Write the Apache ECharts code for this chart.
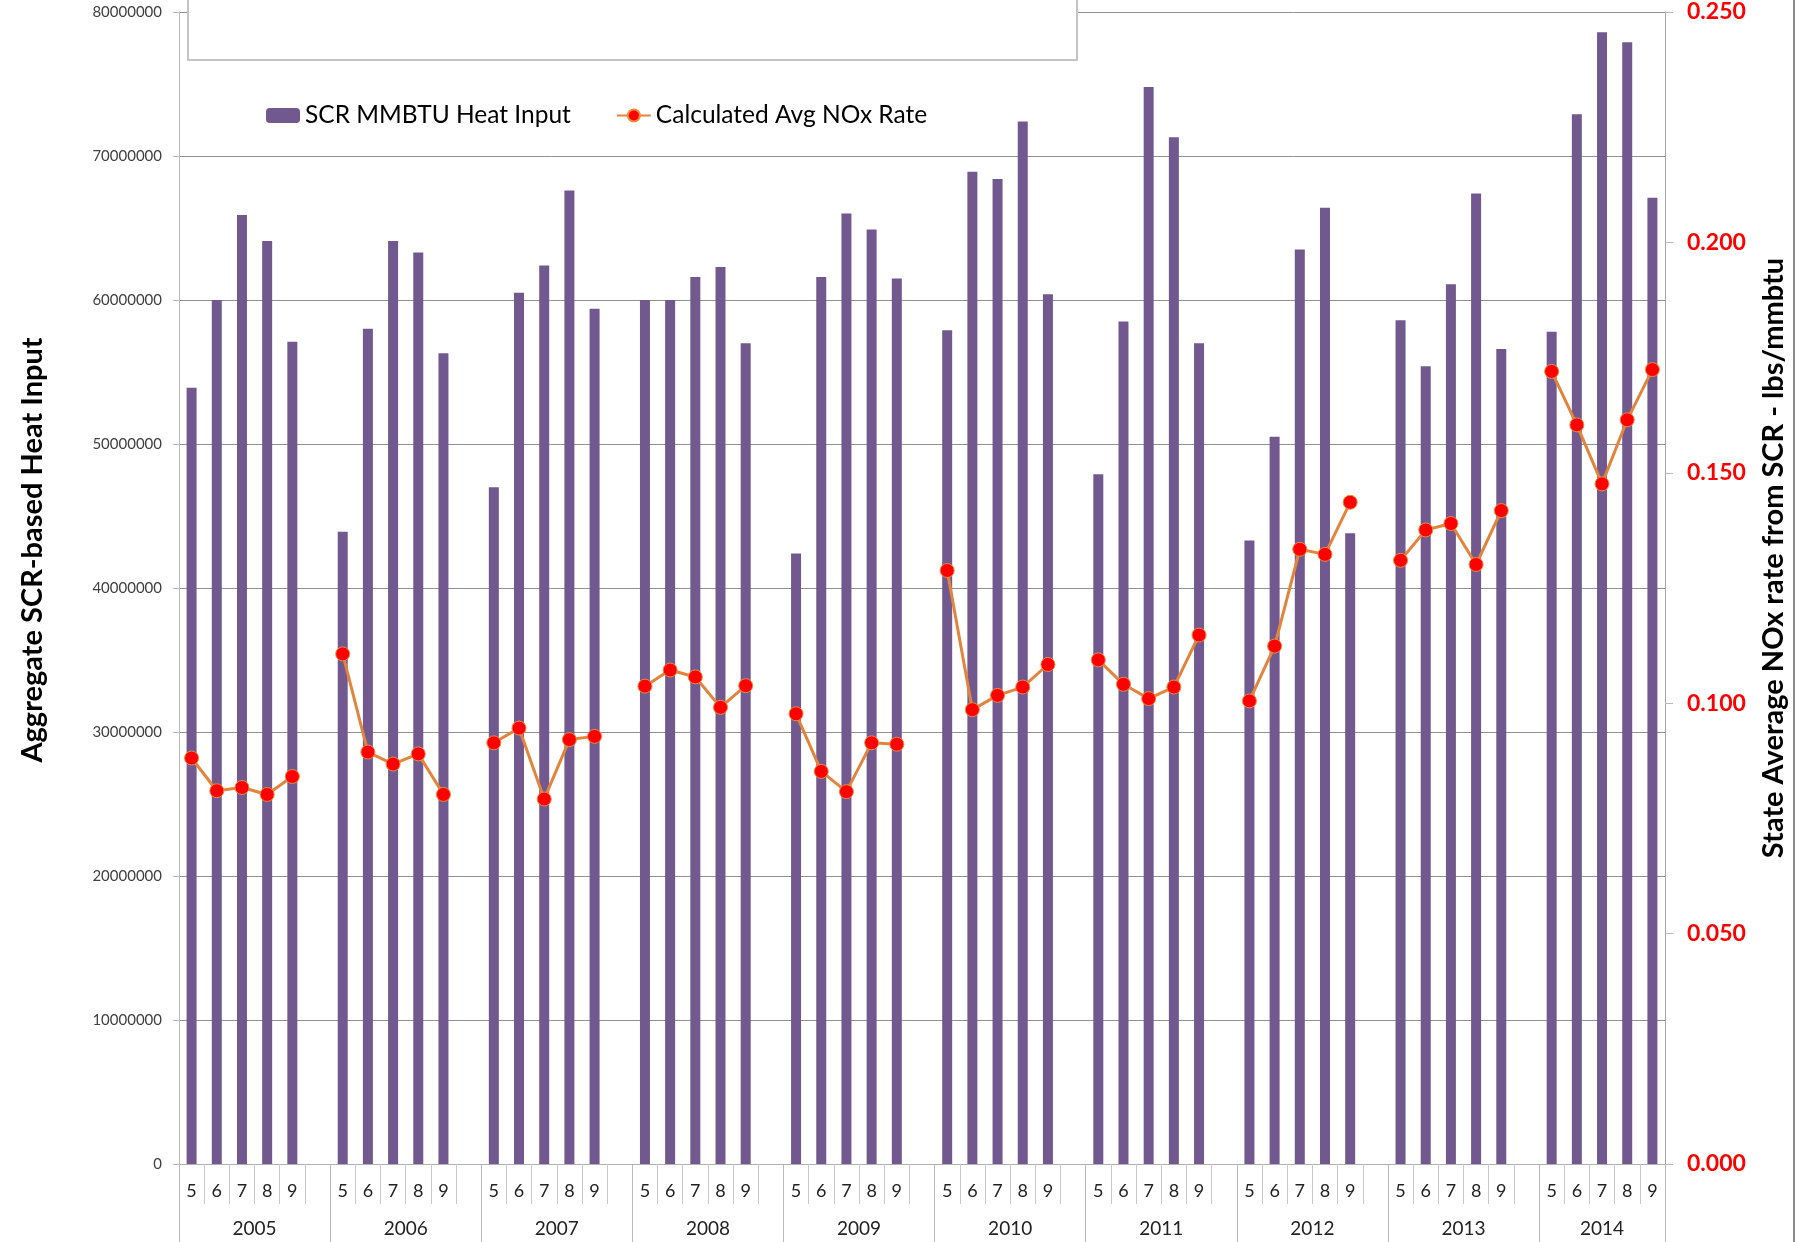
<!DOCTYPE html>
<html>
<head>
<meta charset="utf-8">
<script src="https://cdn.jsdelivr.net/npm/echarts@6/dist/echarts.min.js"></script>
<style>
  html, body { margin: 0; padding: 0; background: #fff; }
  #chart { width: 1798px; height: 1242px; }
</style>
</head>
<body>
<div id="chart"></div>
<script>
// ---- Data ----
const years = ['2005','2006','2007','2008','2009','2010','2011','2012','2013','2014'];
const months = ['5','6','7','8','9'];

// SCR MMBTU Heat Input, 5 months per year (May..Sep)
const heatInput = [
  53900000, 60000000, 65900000, 64100000, 57100000,   // 2005
  43900000, 58000000, 64100000, 63300000, 56300000,   // 2006
  47000000, 60500000, 62400000, 67600000, 59400000,   // 2007
  60000000, 60000000, 61600000, 62300000, 57000000,   // 2008
  42400000, 61600000, 66000000, 64900000, 61500000,   // 2009
  57900000, 68900000, 68400000, 72400000, 60400000,   // 2010
  47900000, 58500000, 74800000, 71300000, 57000000,   // 2011
  43300000, 50500000, 63500000, 66400000, 43800000,   // 2012
  58600000, 55400000, 61100000, 67400000, 56600000,   // 2013
  57800000, 72900000, 78600000, 77900000, 67100000    // 2014
];

// Calculated Avg NOx Rate (lbs/mmbtu)
const noxRate = [
  0.0881, 0.0810, 0.0817, 0.0802, 0.0841,   // 2005
  0.1107, 0.0894, 0.0868, 0.0890, 0.0802,   // 2006
  0.0914, 0.0946, 0.0792, 0.0921, 0.0928,   // 2007
  0.1037, 0.1072, 0.1057, 0.0991, 0.1038,   // 2008
  0.0977, 0.0852, 0.0808, 0.0914, 0.0911,   // 2009
  0.1288, 0.0986, 0.1017, 0.1035, 0.1084,   // 2010
  0.1094, 0.1041, 0.1010, 0.1035, 0.1148,   // 2011
  0.1005, 0.1124, 0.1334, 0.1323, 0.1436,   // 2012
  0.1310, 0.1376, 0.1390, 0.1301, 0.1418,   // 2013
  0.1720, 0.1604, 0.1476, 0.1615, 0.1724    // 2014
];

const leftTicks = { min: 0, max: 80000000, interval: 10000000 };
const rightTicks = { min: 0, max: 0.25, interval: 0.05 };

// ---- Build slot layout: 5 months + one blank slot per year (none after last) ----
const slotLabels = [], barData = [], lineData = [];
years.forEach((y, yi) => {
  months.forEach((m, mi) => {
    slotLabels.push(m);
    barData.push(heatInput[yi * 5 + mi]);
    lineData.push(noxRate[yi * 5 + mi]);
  });
  if (yi < years.length - 1) {
    slotLabels.push('');
    barData.push(null);
    lineData.push(null);
  }
});
const nSlots = slotLabels.length;            // 59
// Year axis on half-slot points (boundaryGap false): 2*nSlots+1 points
const yearAxisData = [];
for (let i = 0; i <= 2 * nSlots; i++) yearAxisData.push('_' + i);
const yearLabelIdx = new Set(), yearBoundIdx = new Set();
years.forEach((y, yi) => {
  const s = yi * 6;
  const e = (yi < years.length - 1) ? s + 6 : nSlots;
  yearAxisData[s + e] = y;
  yearLabelIdx.add(s + e);
  yearBoundIdx.add(2 * s);
});
yearBoundIdx.add(2 * nSlots);

const FONT = 'Lato';
const chart = echarts.init(document.getElementById('chart'), null, { renderer: 'canvas' });

const option = {
  animation: false,
  backgroundColor: '#ffffff',
  grid: { left: 179, right: 133, top: 12, bottom: 78, containLabel: false, outerBoundsMode: 'none' },
  legend: {
    left: 261, top: 98,
    itemWidth: 34, itemHeight: 15, itemGap: 45,
    textStyle: { fontFamily: FONT, fontSize: 24.5, color: '#000' },
    data: ['SCR MMBTU Heat Input', 'Calculated Avg NOx Rate']
  },
  xAxis: [
    {
      type: 'category', data: slotLabels, position: 'bottom',
      axisLine: { show: true, lineStyle: { color: '#b0b0b0', width: 1 } },
      axisTick: { show: true, interval: 0, length: 40, lineStyle: { color: '#c8c8c8' } },
      axisLabel: { interval: 0, margin: 18, fontFamily: FONT, fontSize: 18, color: '#222' },
      splitLine: { show: false }
    },
    {
      type: 'category', data: yearAxisData, position: 'bottom', boundaryGap: false,
      axisLine: { show: false },
      axisTick: { show: true, length: 80, interval: (i) => yearBoundIdx.has(i), lineStyle: { color: '#b8b8b8' } },
      axisLabel: {
        interval: (i) => yearLabelIdx.has(i), margin: 55,
        fontFamily: FONT, fontSize: 19, color: '#222',
        formatter: (v) => (v.charAt(0) === '_' ? '' : v)
      },
      splitLine: { show: false }
    }
  ],
  yAxis: [
    {
      type: 'value', min: leftTicks.min, max: leftTicks.max, interval: leftTicks.interval,
      axisLine: { show: true, lineStyle: { color: '#b8b8b8' } },
      axisTick: { show: true, length: 6, lineStyle: { color: '#b8b8b8' } },
      axisLabel: { margin: 17, fontFamily: FONT, fontSize: 15, color: '#404040', formatter: (v) => String(v) },
      splitLine: { show: true, lineStyle: { color: '#909090', width: 1 } }
    },
    {
      type: 'value', min: rightTicks.min, max: rightTicks.max, interval: rightTicks.interval, position: 'right',
      axisLine: { show: true, lineStyle: { color: '#a8a8a8' } },
      axisTick: { show: true, length: 8, lineStyle: { color: '#b8b8b8' } },
      axisLabel: { margin: 22, fontFamily: FONT, fontSize: 23, fontWeight: 'bold', color: '#ff0000', formatter: (v) => v.toFixed(3) },
      splitLine: { show: false }
    }
  ],
  series: [
    {
      name: 'SCR MMBTU Heat Input', type: 'bar', xAxisIndex: 0, yAxisIndex: 0,
      data: barData, barWidth: 10,
      itemStyle: { color: '#71598f' }
    },
    {
      name: 'Calculated Avg NOx Rate', type: 'line', xAxisIndex: 0, yAxisIndex: 1,
      data: lineData, connectNulls: false,
      symbol: 'circle', symbolSize: 14,
      lineStyle: { color: '#e3843c', width: 3 },
      itemStyle: { color: '#ff0000', borderColor: '#ee8a3a', borderWidth: 1 },
      z: 5
    }
  ],
  graphic: [
    { type: 'rect', z: 50, shape: { x: 188, y: -10, width: 889, height: 70 },
      style: { fill: '#ffffff', stroke: '#c4c4c4', lineWidth: 2 } },
    { type: 'line', z: 50, shape: { x1: 1794, y1: 0, x2: 1794, y2: 1242 },
      style: { stroke: '#8c8c8c', lineWidth: 2 } },
    { type: 'text', z: 50, x: 33, y: 550, rotation: Math.PI / 2,
      style: { text: 'Aggregate SCR-based Heat Input', font: 'bold 29px Lato', fill: '#000', align: 'center', verticalAlign: 'middle' } },
    { type: 'text', z: 50, x: 1774, y: 558, rotation: Math.PI / 2,
      style: { text: 'State Average NOx rate from SCR - lbs/mmbtu', font: 'bold 29px Lato', fill: '#000', align: 'center', verticalAlign: 'middle' } }
  ]
};
chart.setOption(option);
</script>
</body>
</html>
